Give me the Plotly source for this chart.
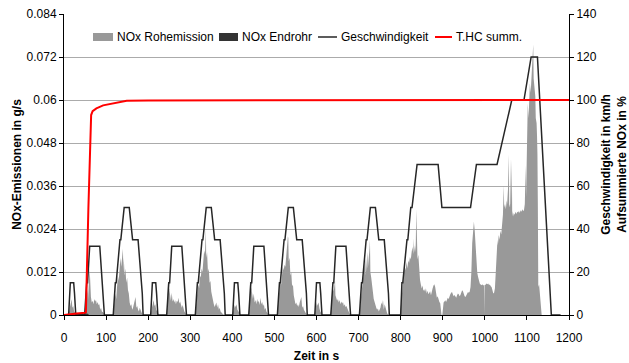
import plotly.graph_objects as go

# ---------------- data ----------------
# NOx raw emission (g/s)
roh_t = [0, 10, 12, 14, 16, 18, 20, 22, 24, 27, 30, 48, 50, 52, 54, 56, 57, 58, 60, 61, 62, 64, 66, 68, 70, 72, 74, 76, 78, 80, 82, 84, 86, 88, 90, 93, 96, 98,
         116, 118, 120, 122, 124, 126, 128, 130, 132, 134, 136, 138, 140, 141, 142, 144, 146, 148, 150, 152, 154, 156, 158, 160, 162, 164, 166, 168, 170, 172, 174, 176, 178, 180, 182, 184, 186, 190,
         205, 207, 209, 211, 213, 215, 217, 219, 221, 224, 226, 243, 245, 247, 248, 250, 252, 254, 256, 258, 260, 262, 264, 266, 268, 270, 272, 274, 276, 278, 280, 282, 284, 286, 290, 292,
         311, 313, 315, 317, 319, 321, 323, 325, 327, 329, 331, 333, 335, 336, 337, 338, 340, 342, 344, 346, 348, 350, 352, 354, 356, 358, 360, 362, 364, 366, 368, 370, 372, 375, 378, 382,
         400, 402, 404, 406, 408, 410, 412, 414, 418, 420, 438, 440, 442, 443, 445, 447, 449, 451, 453, 455, 457, 459, 461, 463, 465, 467, 469, 471, 473, 475, 477, 479, 481, 485, 487,
         506, 508, 510, 512, 514, 516, 518, 520, 522, 524, 526, 528, 530, 532, 533, 534, 536, 538, 540, 542, 544, 546, 548, 550, 552, 554, 556, 558, 560, 562, 564, 566, 568, 570, 572, 575, 578,
         595, 597, 599, 601, 603, 605, 607, 609, 613, 615, 633, 635, 637, 639, 641, 643, 644, 645, 647, 649, 651, 653, 655, 657, 659, 661, 663, 665, 667, 669, 671, 673, 675, 678, 681,
         701, 703, 705, 707, 709, 711, 713, 715, 716, 717, 719, 721, 722, 724, 726, 727, 728, 730, 732, 734, 736, 738, 740, 742, 744, 746, 748, 750, 752, 754, 756, 758, 760, 762, 764, 766, 768, 772,
         798, 800, 802, 804, 806, 808, 810, 812, 814, 816, 818, 820, 822, 824, 826, 828, 830, 831, 832, 834, 835, 836, 837, 838, 840, 842, 844, 846, 848, 850, 852, 854, 856, 858, 860, 862, 864, 866, 868, 870, 872, 874, 876, 878, 880, 882, 884, 886, 888, 890, 892, 894, 896, 897, 899,
         900, 902, 904, 906, 908, 910, 912, 914, 916, 918, 920, 922, 924, 926, 928, 930, 932, 934, 936, 938, 940, 942, 944, 946, 948, 950, 952, 954, 956, 958, 960, 962, 964, 966, 968, 970, 972, 974, 976, 978, 980, 982, 984, 986, 988, 990, 992, 994, 996, 998, 999, 999.6, 1000.2,
         1002, 1004, 1006, 1008, 1010, 1012, 1014, 1016, 1018, 1020, 1022, 1024, 1026, 1028, 1030, 1031, 1033, 1035, 1037, 1039, 1041, 1043, 1045, 1046, 1048, 1050, 1052, 1053, 1055, 1057, 1058, 1060, 1061, 1062, 1064, 1065, 1067, 1069, 1071, 1073, 1075, 1077, 1079, 1081, 1083, 1085, 1087, 1089, 1091, 1093, 1095, 1097, 1098, 1100, 1102, 1104, 1106, 1107, 1109, 1111, 1113, 1115, 1116, 1118, 1120, 1121, 1123, 1124, 1125, 1126, 1127, 1129, 1131, 1133, 1134, 1135, 1200]
roh_v = [0, 0, 0.001, 0.002, 0.0035, 0.0044, 0.002, 0.0025, 0.001, 0.0003, 0, 0, 0.001, 0.003, 0.006, 0.0075, 0.004, 0.009, 0.011, 0.013, 0.0085, 0.005, 0.0035, 0.004, 0.003, 0.0045, 0.0038, 0.0042, 0.003, 0.0036, 0.0028, 0.003, 0.0015, 0.002, 0.001, 0.0008, 0.0002, 0,
         0, 0.002, 0.004, 0.006, 0.0045, 0.008, 0.011, 0.0095, 0.014, 0.016, 0.0135, 0.0175, 0.0185, 0.012, 0.016, 0.011, 0.013, 0.009, 0.0105, 0.007, 0.006, 0.0035, 0.0025, 0.003, 0.0015, 0.002, 0.003, 0.0045, 0.005, 0.002, 0.0025, 0.0015, 0.001, 0.002, 0.0012, 0.0005, 0.0002, 0,
         0, 0.001, 0.002, 0.003, 0.0042, 0.0025, 0.003, 0.0015, 0.001, 0.0002, 0, 0, 0.002, 0.0092, 0.006, 0.0075, 0.0055, 0.004, 0.0062, 0.0038, 0.0045, 0.0035, 0.0042, 0.003, 0.004, 0.0036, 0.0048, 0.0032, 0.0038, 0.003, 0.002, 0.0028, 0.0012, 0.001, 0.0002, 0,
         0, 0.002, 0.004, 0.006, 0.0085, 0.0075, 0.011, 0.0105, 0.013, 0.012, 0.015, 0.018, 0.017, 0.021, 0.024, 0.016, 0.0175, 0.012, 0.013, 0.009, 0.0095, 0.0065, 0.005, 0.0035, 0.003, 0.0022, 0.0028, 0.0035, 0.002, 0.003, 0.0015, 0.002, 0.001, 0.0005, 0.0002, 0,
         0, 0.001, 0.002, 0.0028, 0.0022, 0.003, 0.0015, 0.001, 0.0002, 0, 0, 0.002, 0.0098, 0.006, 0.0078, 0.0052, 0.0045, 0.006, 0.0035, 0.0042, 0.003, 0.0045, 0.0035, 0.004, 0.0028, 0.0048, 0.003, 0.0036, 0.0025, 0.003, 0.0015, 0.002, 0.001, 0.0002, 0,
         0, 0.002, 0.005, 0.007, 0.0095, 0.0085, 0.012, 0.0135, 0.0125, 0.014, 0.0135, 0.016, 0.019, 0.022, 0.0215, 0.015, 0.016, 0.011, 0.012, 0.008, 0.0085, 0.0055, 0.0045, 0.003, 0.0035, 0.0025, 0.003, 0.0022, 0.0035, 0.0045, 0.005, 0.002, 0.0025, 0.0015, 0.001, 0.0004, 0,
         0, 0.0015, 0.0036, 0.0025, 0.003, 0.0035, 0.0018, 0.001, 0.0002, 0, 0, 0.002, 0.006, 0.0075, 0.0065, 0.0085, 0.0097, 0.0055, 0.0048, 0.004, 0.0045, 0.0035, 0.0042, 0.003, 0.0038, 0.0032, 0.0036, 0.0025, 0.003, 0.0022, 0.0025, 0.0018, 0.0012, 0.0005, 0,
         0, 0.002, 0.004, 0.006, 0.0085, 0.01, 0.0125, 0.0145, 0.0158, 0.011, 0.0135, 0.0176, 0.013, 0.015, 0.0185, 0.021, 0.012, 0.0105, 0.0075, 0.0065, 0.0045, 0.0035, 0.0028, 0.002, 0.0015, 0.0018, 0.001, 0.0015, 0.002, 0.0035, 0.0028, 0.0042, 0.0015, 0.003, 0.0022, 0.001, 0.0004, 0,
         0, 0.002, 0.005, 0.008, 0.0105, 0.012, 0.0135, 0.0125, 0.0148, 0.013, 0.0152, 0.0145, 0.0162, 0.0155, 0.0175, 0.019, 0.017, 0.0214, 0.0175, 0.0195, 0.0175, 0.0205, 0.0295, 0.018, 0.0155, 0.0168, 0.012, 0.0098, 0.0085, 0.0074, 0.0082, 0.0068, 0.0072, 0.0065, 0.0075, 0.006, 0.0068, 0.0058, 0.0062, 0.0066, 0.0055, 0.0068, 0.0075, 0.0082, 0.0086, 0.0078, 0.0065, 0.0048, 0.0052, 0.0042, 0.0036, 0.0033, 0.0015, 0, 0,
         0.002, 0.0035, 0.0038, 0.0041, 0.0036, 0.0042, 0.0048, 0.0045, 0.0055, 0.0058, 0.0062, 0.0064, 0.0058, 0.0052, 0.0056, 0.005, 0.0048, 0.0055, 0.006, 0.0058, 0.0052, 0.0056, 0.0062, 0.0069, 0.0066, 0.0058, 0.0052, 0.005, 0.0054, 0.006, 0.0064, 0.0062, 0.0065, 0.0078, 0.012, 0.02, 0.0245, 0.026, 0.0235, 0.018, 0.014, 0.0118, 0.0106, 0.0095, 0.0088, 0.0085, 0.0083, 0.0086, 0.0082, 0.0084, 0.0084, 0, 0.0083,
         0.0085, 0.0088, 0.0086, 0.0088, 0.0084, 0.0085, 0.008, 0.0078, 0.007, 0.006, 0.0062, 0.0075, 0.012, 0.018, 0.021, 0.0195, 0.0223, 0.021, 0.0235, 0.0225, 0.0256, 0.028, 0.0362, 0.03, 0.031, 0.0295, 0.032, 0.031, 0.035, 0.0448, 0.03, 0.031, 0.0437, 0.03, 0.0434, 0.029, 0.0275, 0.0285, 0.028, 0.0288, 0.0282, 0.0288, 0.0286, 0.029, 0.0285, 0.0292, 0.0288, 0.0295, 0.029, 0.0292, 0.031, 0.0418, 0.033, 0.042, 0.059, 0.055, 0.061, 0.0647, 0.062, 0.066, 0.07, 0.0755, 0.066, 0.0637, 0.061, 0.055, 0.0535, 0.05, 0.045, 0.03, 0.0078, 0.0085, 0.006, 0.0022, 0.001, 0, 0]

# NOx tailpipe (g/s) - practically zero
end_t = [0, 20, 40, 55, 60, 1200]
end_v = [0, 0.0002, 0.0003, 0.0004, 0, 0]

# vehicle speed (km/h), NEDC
speed_t = [0, 11, 15, 23, 25, 28, 49, 54, 56, 61, 85, 93, 96, 117, 122, 124, 133, 135, 143, 155, 163, 176, 186, 188,
           206, 210, 218, 220, 223, 244, 249, 251, 256, 280, 288, 291, 312, 317, 319, 328, 330, 338, 350, 358, 371, 381, 383,
           401, 405, 413, 415, 418, 439, 444, 446, 451, 475, 483, 486, 507, 512, 514, 523, 525, 533, 545, 553, 566, 576, 578,
           596, 600, 608, 610, 613, 634, 639, 641, 646, 670, 678, 681, 702, 707, 709, 718, 720, 728, 740, 748, 761, 771, 773,
           800, 803, 805, 815, 817, 824, 827, 839, 889, 898, 966, 980, 1029, 1064, 1093, 1110, 1125, 1158, 1180]
speed_v = [0, 0, 15, 15, 10, 0, 0, 15, 15, 32, 32, 10, 0, 0, 15, 15, 35, 35, 50, 50, 35, 35, 10, 0,
           0, 15, 15, 10, 0, 0, 15, 15, 32, 32, 10, 0, 0, 15, 15, 35, 35, 50, 50, 35, 35, 10, 0,
           0, 15, 15, 10, 0, 0, 15, 15, 32, 32, 10, 0, 0, 15, 15, 35, 35, 50, 50, 35, 35, 10, 0,
           0, 15, 15, 10, 0, 0, 15, 15, 32, 32, 10, 0, 0, 15, 15, 35, 35, 50, 50, 35, 35, 10, 0,
           0, 15, 15, 35, 35, 50, 50, 70, 70, 50, 50, 70, 70, 100, 100, 120, 120, 0, 0]

# cumulative NOx (%)
cum_t = [0, 10, 30, 50, 52, 58, 62, 64.5, 68, 77, 93, 115, 133, 149, 200, 400, 800, 1000, 1200]
cum_v = [0, 0.3, 0.7, 1.0, 1.2, 50, 80, 93, 94.8, 96.1, 97.5, 98.3, 98.8, 99.7, 99.8, 99.85, 99.9, 100, 100]

left_ticks = [0, 0.012, 0.024, 0.036, 0.048, 0.06, 0.072, 0.084]
left_labels = ["0", "0.012", "0.024", "0.036", "0.048", "0.06", "0.072", "0.084"]
right_ticks = [0, 20, 40, 60, 80, 100, 120, 140]
x_ticks = [0, 100, 200, 300, 400, 500, 600, 700, 800, 900, 1000, 1100, 1200]

series_names = ["NOx Rohemission", "NOx Endrohr", "Geschwindigkeit", "T.HC summ."]
series_colors = ["#999999", "#333333", "#262626", "#ff0000"]

FONT = "Liberation Sans, Arial, sans-serif"
W, H = 629, 363
ML, MR, MT, MB = 64, 60, 14, 48
PW, PH = W - ML - MR, H - MT - MB


def px_x(p):
    return (p - ML) / PW


def px_y(p):
    return (H - MB - p) / PH


fig = go.Figure()
fig.add_trace(go.Scatter(x=roh_t, y=roh_v, name=series_names[0], mode="lines",
                         line=dict(width=0, color=series_colors[0]), fill="tozeroy",
                         fillcolor=series_colors[0]))
fig.add_trace(go.Scatter(x=end_t, y=end_v, name=series_names[1], mode="lines",
                         line=dict(width=0, color=series_colors[1]), fill="tozeroy",
                         fillcolor=series_colors[1]))
fig.add_trace(go.Scatter(x=speed_t, y=speed_v, name=series_names[2], mode="lines",
                         line=dict(width=1.5, color=series_colors[2]), yaxis="y2"))
fig.add_trace(go.Scatter(x=cum_t, y=cum_v, name=series_names[3], mode="lines",
                         line=dict(width=2, color=series_colors[3]), yaxis="y2"))

# manual legend (swatch shapes + real text annotations)
leg_y = 37
leg_items = [  # (kind, x0, x1, text_x)
    ("rect", 93, 113, 115),
    ("rect", 219, 238, 240),
    ("line", 318, 337, 339),
    ("line", 435, 452, 454),
]
shapes = []
annos = []
for (kind, x0, x1, tx), name, col in zip(leg_items, series_names, series_colors):
    if kind == "rect":
        shapes.append(dict(type="rect", xref="paper", yref="paper",
                           x0=px_x(x0), x1=px_x(x1), y0=px_y(leg_y + 4), y1=px_y(leg_y - 4),
                           fillcolor=col, line=dict(width=0)))
    else:
        shapes.append(dict(type="line", xref="paper", yref="paper",
                           x0=px_x(x0), x1=px_x(x1), y0=px_y(leg_y), y1=px_y(leg_y),
                           line=dict(color=col, width=2 if col == "#ff0000" else 1.5)))
    annos.append(dict(text=name, xref="paper", yref="paper", x=px_x(tx), y=px_y(leg_y),
                      xanchor="left", yanchor="middle", showarrow=False,
                      font=dict(size=12, family=FONT, color="black")))

fig.update_layout(
    width=W, height=H,
    margin=dict(l=ML, r=MR, t=MT, b=MB, autoexpand=False),
    paper_bgcolor="white", plot_bgcolor="white",
    font=dict(family=FONT, size=12, color="black"),
    showlegend=False,
    shapes=shapes, annotations=annos,
    xaxis=dict(range=[0, 1200], tickvals=x_ticks, showgrid=False, showline=True,
               linecolor="black", linewidth=1, ticks="outside", ticklen=4, tickcolor="black",
               ticklabelstandoff=8, automargin=False,
               title=dict(text="<b>Zeit in s</b>", font=dict(size=12), standoff=10),
               zeroline=False),
    yaxis=dict(range=[0, 0.084], tickvals=left_ticks, ticktext=left_labels,
               showgrid=True, gridcolor="#ababab", gridwidth=1, showline=True,
               linecolor="black", linewidth=1, ticks="outside", ticklen=4, tickcolor="black",
               automargin=False,
               title=dict(text="<b>NOx-Emissionen in g/s</b>", font=dict(size=12), standoff=2),
               zeroline=False),
    yaxis2=dict(range=[0, 140], tickvals=right_ticks, overlaying="y", side="right",
                showgrid=False, showline=True, linecolor="black", linewidth=1,
                ticks="outside", ticklen=4, tickcolor="black", zeroline=False,
                automargin=False,
                title=dict(text="<b>Geschwindigkeit in km/h<br>Aufsummierte NOx in %</b>",
                           font=dict(size=12), standoff=14)),
)

fig.write_html("out.html")
